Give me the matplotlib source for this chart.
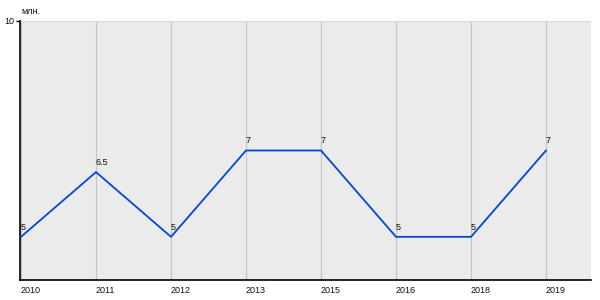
import matplotlib
matplotlib.use("Agg")
import matplotlib.pyplot as plt

years = ["2010", "2011", "2012", "2013", "2015", "2016", "2018", "2019"]
values = [5, 6.5, 5, 7, 7, 5, 5, 7]
value_labels = ["5", "6.5", "5", "7", "7", "5", "5", "7"]
unit = "млн."

plt.rcParams['font.family'] = ['Liberation Sans', 'DejaVu Sans']

fig = plt.figure(figsize=(6, 3), dpi=100)
ax = fig.add_axes([20/600, 20/300, 571/600, 259/300])
ax.set_facecolor('#ebebeb')

x = list(range(len(years)))
ax.plot(x, values, color='#0047d9', lw=1.3, zorder=3)
for xi, v, lab in zip(x, values, value_labels):
    ax.text(xi, v + 0.12, lab, fontsize=6.5, ha='left', va='bottom', color='#111111', zorder=4)

ax.set_xlim(-1/75, 7.6)
ax.set_ylim(4, 10)
for xi in x:
    ax.axvline(xi, color='#c4c4c4', lw=0.9, zorder=1)
ax.axhline(10, color='#d8d8d8', lw=1.5, zorder=1)

ax.set_xticks(x)
ax.set_xticklabels(years, fontsize=6.5, ha='left', color='#111111')
ax.tick_params(axis='x', length=0, pad=4)
ax.set_yticks([10])
ax.set_yticklabels(["10"], fontsize=6.5, color='#111111')
ax.tick_params(axis='y', length=3, width=1, pad=1)

for s in ['top', 'right']:
    ax.spines[s].set_visible(False)
for s in ['left', 'bottom']:
    ax.spines[s].set_color('black')
    ax.spines[s].set_linewidth(1.2)

fig.text(21/600, 1 - 12/300, unit, fontsize=6.5, ha='left', va='center', color='#111111')

fig.savefig("out.png", dpi=100, facecolor='white')
